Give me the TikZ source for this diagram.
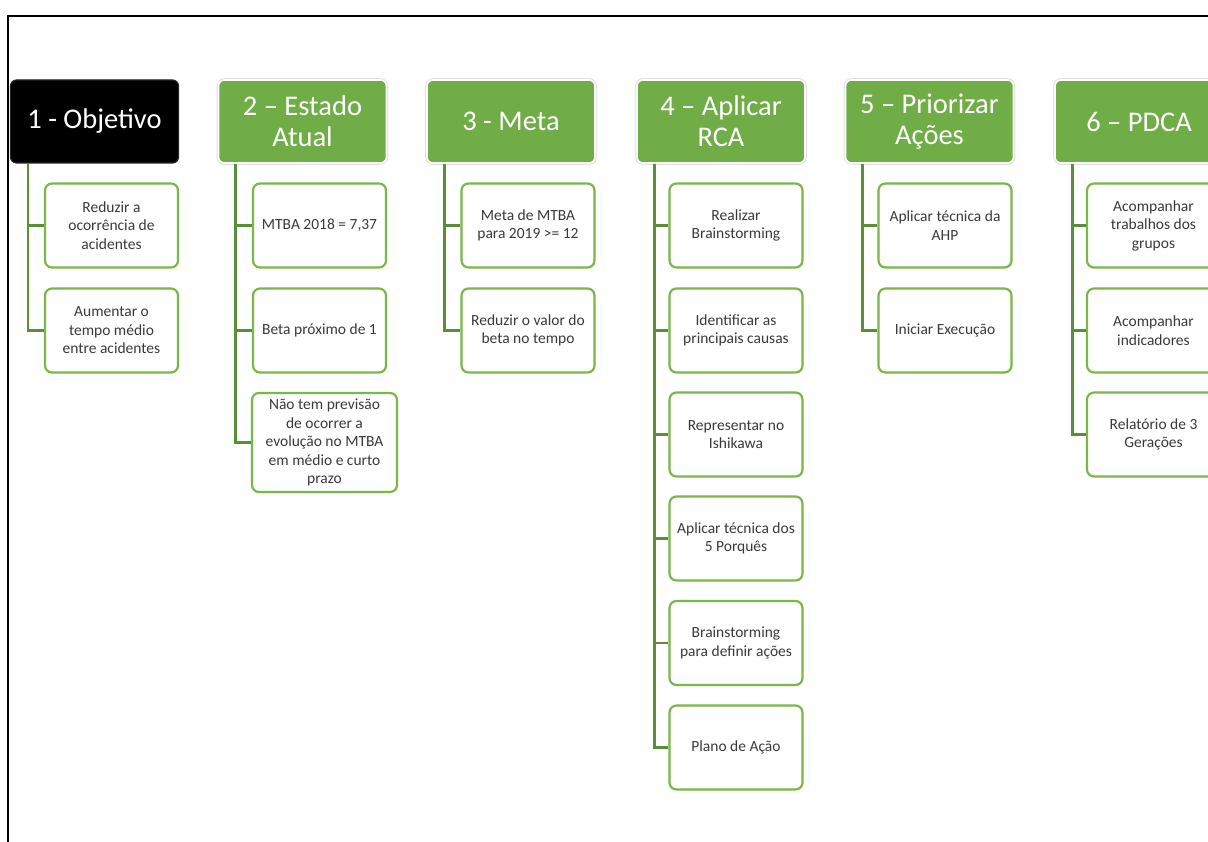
\documentclass[tikz,border=0pt]{standalone}
\usepackage{fontspec}
\setmainfont{Carlito}
\definecolor{hdrgreen}{HTML}{70AD47}
\definecolor{boxgreen}{HTML}{7AB648}
\definecolor{linkgreen}{HTML}{5A8E3A}
\definecolor{bodytext}{HTML}{3A3A3A}
\begin{document}
\begin{tikzpicture}[x=1pt,y=-1pt,
  header/.style={rounded corners=6pt, minimum width=168pt, minimum height=83pt,
    inner sep=0pt, align=center, text=white,
    font=\fontsize{28.5}{31}\selectfont},
  greenhead/.style={header, fill=hdrgreen, draw=white, line width=1.6pt,
    preaction={draw=black!12, line width=3.6pt}},
  blackhead/.style={header, fill=black, draw=black!85, line width=1.2pt},
  item/.style={rounded corners=7pt, minimum width=133pt, minimum height=84pt,
    inner sep=2pt, align=center, fill=white, draw=boxgreen, line width=2.2pt,
    text=bodytext, font=\fontsize{15.5}{18.5}\selectfont},
  link/.style={draw=linkgreen, line width=2.6pt},
  frameline/.style={draw=black, line width=1.4pt}
]
\useasboundingbox (0,0) rectangle (1208,842);
\clip (0,0) rectangle (1208,842);

% page frame
\draw[frameline] (1210,16) -- (8,16) -- (8,844);

% column headers
\node[blackhead] (h1) at (94.5,121.5) {1 - Objetivo};
\node[greenhead] (h2) at (302.5,121.5) {2 – Estado\\Atual};
\node[greenhead] (h3) at (511,121.5) {3 - Meta};
\node[greenhead] (h4) at (721,121.5) {4 – Aplicar\\RCA};
\node[greenhead] (h5) at (929.5,121.5) {5 – Priorizar\\Ações};
\node[greenhead] (h6) at (1139,121.5) {6 – PDCA};

% column 1
\node[item] (c11) at (111.5,225.5) {Reduzir a\\ocorrência de\\acidentes};
\node[item] (c12) at (111.5,330.5) {Aumentar o\\tempo médio\\entre acidentes};

% column 2
\node[item] (c21) at (319.5,225.5) {MTBA 2018 = 7,37};
\node[item] (c22) at (319.5,330.5) {Beta próximo de 1};
\node[item, minimum width=145pt, minimum height=99pt] (c23) at (324.5,442.5)
  {Não tem previsão\\de ocorrer a\\evolução no MTBA\\em médio e curto\\prazo};

% column 3
\node[item] (c31) at (528,225.5) {Meta de MTBA\\para 2019 >= 12};
\node[item] (c32) at (528,330.5) {Reduzir o valor do\\beta no tempo};

% column 4
\node[item] (c41) at (736,225.5) {Realizar\\Brainstorming};
\node[item] (c42) at (736,330.5) {Identificar as\\principais causas};
\node[item] (c43) at (736,434.5) {Representar no\\Ishikawa};
\node[item] (c44) at (736,538.5) {Aplicar técnica dos\\5 Porquês};
\node[item] (c45) at (736,643) {Brainstorming\\para definir ações};
\node[item] (c46) at (736,747.5) {Plano de Ação};

% column 5
\node[item] (c51) at (945,225.5) {Aplicar técnica da\\AHP};
\node[item] (c52) at (945,330.5) {Iniciar Execução};

% column 6
\node[item] (c61) at (1153.5,225.5) {Acompanhar\\trabalhos dos\\grupos};
\node[item] (c62) at (1153.5,330.5) {Acompanhar\\indicadores};
\node[item] (c63) at (1153.5,434.5) {Relatório de 3\\Gerações};

% connectors: trunk from each header, branch to every item
\foreach \h/\list in {h1/{c11,c12}, h2/{c21,c22,c23}, h3/{c31,c32},
                      h4/{c41,c42,c43,c44,c45,c46}, h5/{c51,c52},
                      h6/{c61,c62,c63}} {
  \foreach \c in \list {
    \draw[link] ([xshift=18pt]\h.south west) |- (\c.west);
  }
}
\end{tikzpicture}
\end{document}
